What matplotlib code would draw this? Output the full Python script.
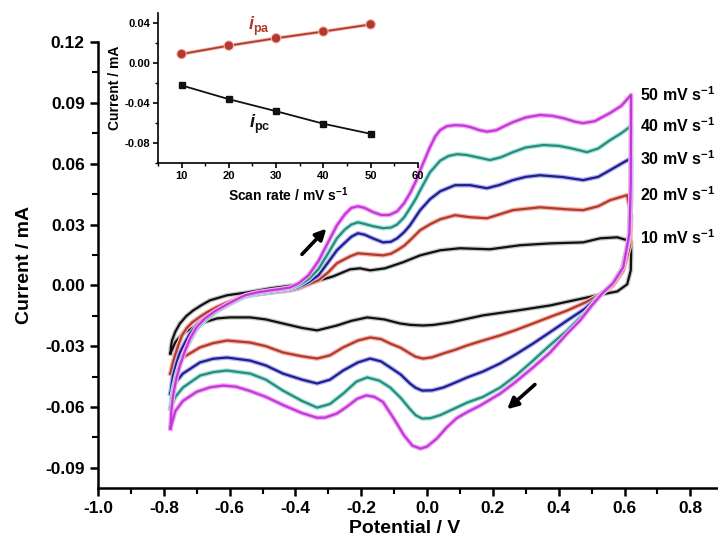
import matplotlib
matplotlib.use('Agg')
import matplotlib.pyplot as plt
import matplotlib.patheffects as pe
from matplotlib.ticker import MultipleLocator, FormatStrFormatter

plt.rcParams['font.family'] = ['Liberation Sans', 'DejaVu Sans']
plt.rcParams['font.weight'] = 'bold'
plt.rcParams['axes.unicode_minus'] = False
plt.rcParams['mathtext.fontset'] = 'custom'
plt.rcParams['mathtext.rm'] = 'Liberation Sans:bold'
plt.rcParams['mathtext.bf'] = 'Liberation Sans:bold'
plt.rcParams['mathtext.it'] = 'Liberation Sans:italic:bold'
plt.rcParams['mathtext.bfit'] = 'Liberation Sans:italic:bold'

# ---- CV data: (potential / V, current / mA), anodic sweep then cathodic sweep
cv_50 = [(-0.780, -0.0706), (-0.777, -0.0620), (-0.772, -0.0543), (-0.762, -0.0460), (-0.751, -0.0395),
         (-0.735, -0.0320), (-0.720, -0.0262), (-0.700, -0.0205), (-0.675, -0.0163), (-0.645, -0.0128),
         (-0.614, -0.0099), (-0.580, -0.0070), (-0.553, -0.0049), (-0.515, -0.0034), (-0.477, -0.0025),
         (-0.445, -0.0018), (-0.416, -0.0010), (-0.390, 0.0010), (-0.360, 0.0050), (-0.330, 0.0120),
         (-0.300, 0.0215), (-0.274, 0.0296), (-0.250, 0.0350), (-0.230, 0.0382), (-0.210, 0.0390),
         (-0.190, 0.0382), (-0.165, 0.0362), (-0.140, 0.0347), (-0.115, 0.0347), (-0.091, 0.0365),
         (-0.070, 0.0405), (-0.052, 0.0454), (-0.035, 0.0510), (-0.021, 0.0568), (0.009, 0.0682),
         (0.025, 0.0735), (0.040, 0.0766), (0.060, 0.0785), (0.085, 0.0790), (0.110, 0.0788),
         (0.131, 0.0781), (0.160, 0.0765), (0.182, 0.0758), (0.210, 0.0765), (0.235, 0.0785),
         (0.261, 0.0805), (0.300, 0.0828), (0.343, 0.0840), (0.380, 0.0836), (0.413, 0.0825),
         (0.450, 0.0807), (0.474, 0.0800), (0.510, 0.0810), (0.556, 0.0850), (0.590, 0.0885),
         (0.620, 0.0939),
         (0.619, 0.0504), (0.615, 0.0257), (0.596, 0.0089), (0.565, 0.0010), (0.532, -0.0040),
         (0.500, -0.0100), (0.465, -0.0173), (0.426, -0.0237), (0.374, -0.0331), (0.322, -0.0405),
         (0.267, -0.0479), (0.222, -0.0534), (0.161, -0.0593), (0.122, -0.0625), (0.090, -0.0655),
         (0.060, -0.0700), (0.030, -0.0755), (0.000, -0.0795), (-0.020, -0.0805), (-0.045, -0.0790),
         (-0.070, -0.0740), (-0.100, -0.0660), (-0.134, -0.0575), (-0.160, -0.0550), (-0.185, -0.0543),
         (-0.213, -0.0560), (-0.245, -0.0600), (-0.274, -0.0632), (-0.310, -0.0652), (-0.334, -0.0653),
         (-0.380, -0.0630), (-0.438, -0.0590), (-0.490, -0.0550), (-0.538, -0.0521), (-0.580, -0.0500),
         (-0.620, -0.0494), (-0.660, -0.0503), (-0.700, -0.0525), (-0.742, -0.0570), (-0.765, -0.0620),
         (-0.780, -0.0706)]

cv_40 = [(-0.780, -0.0608), (-0.776, -0.0550), (-0.772, -0.0509), (-0.762, -0.0440), (-0.751, -0.0380),
         (-0.735, -0.0320), (-0.720, -0.0272), (-0.700, -0.0215), (-0.675, -0.0173), (-0.645, -0.0135),
         (-0.614, -0.0104), (-0.580, -0.0075), (-0.553, -0.0054), (-0.515, -0.0040), (-0.477, -0.0030),
         (-0.445, -0.0022), (-0.416, -0.0015), (-0.390, 0.0000), (-0.360, 0.0030), (-0.330, 0.0080),
         (-0.300, 0.0160), (-0.274, 0.0232), (-0.250, 0.0275), (-0.230, 0.0300), (-0.210, 0.0311),
         (-0.190, 0.0303), (-0.165, 0.0292), (-0.134, 0.0282), (-0.110, 0.0285), (-0.091, 0.0300),
         (-0.070, 0.0335), (-0.052, 0.0380), (-0.035, 0.0425), (-0.021, 0.0469), (0.009, 0.0558),
         (0.040, 0.0615), (0.065, 0.0638), (0.091, 0.0647), (0.120, 0.0643), (0.152, 0.0632),
         (0.191, 0.0618), (0.225, 0.0632), (0.261, 0.0657), (0.300, 0.0680), (0.353, 0.0692),
         (0.400, 0.0688), (0.435, 0.0677), (0.486, 0.0657), (0.520, 0.0675), (0.556, 0.0716),
         (0.590, 0.0750), (0.620, 0.0786),
         (0.619, 0.0469), (0.614, 0.0232), (0.593, 0.0084), (0.562, 0.0005), (0.532, -0.0040),
         (0.480, -0.0135), (0.426, -0.0222), (0.370, -0.0300), (0.322, -0.0371), (0.270, -0.0445),
         (0.222, -0.0504), (0.170, -0.0550), (0.122, -0.0578), (0.080, -0.0610), (0.040, -0.0640),
         (0.010, -0.0655), (-0.015, -0.0657), (-0.035, -0.0640), (-0.052, -0.0610), (-0.080, -0.0555),
         (-0.112, -0.0504), (-0.145, -0.0470), (-0.182, -0.0454), (-0.215, -0.0475), (-0.255, -0.0534),
         (-0.295, -0.0585), (-0.334, -0.0603), (-0.380, -0.0570), (-0.438, -0.0519), (-0.490, -0.0465),
         (-0.538, -0.0435), (-0.608, -0.0420), (-0.650, -0.0428), (-0.690, -0.0445), (-0.742, -0.0504),
         (-0.765, -0.0550), (-0.780, -0.0608)]

cv_30 = [(-0.780, -0.0534), (-0.776, -0.0485), (-0.772, -0.0445), (-0.762, -0.0385), (-0.751, -0.0331),
         (-0.735, -0.0280), (-0.720, -0.0237), (-0.700, -0.0195), (-0.675, -0.0163), (-0.645, -0.0132),
         (-0.614, -0.0104), (-0.580, -0.0075), (-0.553, -0.0054), (-0.515, -0.0043), (-0.477, -0.0035),
         (-0.445, -0.0027), (-0.416, -0.0020), (-0.390, -0.0008), (-0.360, 0.0015), (-0.330, 0.0050),
         (-0.300, 0.0115), (-0.274, 0.0173), (-0.250, 0.0210), (-0.230, 0.0240), (-0.210, 0.0257),
         (-0.190, 0.0250), (-0.165, 0.0232), (-0.134, 0.0212), (-0.110, 0.0215), (-0.091, 0.0232),
         (-0.070, 0.0262), (-0.052, 0.0296), (-0.021, 0.0371), (0.009, 0.0425), (0.040, 0.0464),
         (0.085, 0.0494), (0.131, 0.0494), (0.182, 0.0479), (0.220, 0.0495), (0.261, 0.0519),
         (0.300, 0.0535), (0.343, 0.0543), (0.413, 0.0534), (0.474, 0.0519), (0.520, 0.0535),
         (0.556, 0.0568), (0.590, 0.0600), (0.620, 0.0627),
         (0.620, 0.0420), (0.614, 0.0222), (0.593, 0.0084), (0.562, 0.0005), (0.532, -0.0040),
         (0.480, -0.0115), (0.426, -0.0173), (0.370, -0.0235), (0.322, -0.0287), (0.270, -0.0340),
         (0.222, -0.0385), (0.170, -0.0425), (0.122, -0.0454), (0.085, -0.0480), (0.049, -0.0504),
         (0.015, -0.0518), (-0.015, -0.0519), (-0.035, -0.0505), (-0.052, -0.0484), (-0.080, -0.0440),
         (-0.112, -0.0405), (-0.140, -0.0375), (-0.173, -0.0361), (-0.210, -0.0380), (-0.255, -0.0420),
         (-0.295, -0.0465), (-0.334, -0.0484), (-0.380, -0.0465), (-0.438, -0.0435), (-0.490, -0.0395),
         (-0.538, -0.0371), (-0.608, -0.0356), (-0.650, -0.0362), (-0.690, -0.0380), (-0.742, -0.0435),
         (-0.765, -0.0480), (-0.780, -0.0534)]

cv_20 = [(-0.780, -0.0435), (-0.774, -0.0390), (-0.766, -0.0346), (-0.756, -0.0295), (-0.745, -0.0247),
         (-0.730, -0.0210), (-0.714, -0.0183), (-0.690, -0.0155), (-0.669, -0.0133), (-0.640, -0.0108),
         (-0.614, -0.0089), (-0.580, -0.0068), (-0.553, -0.0054), (-0.515, -0.0043), (-0.477, -0.0035),
         (-0.445, -0.0030), (-0.416, -0.0025), (-0.390, -0.0015), (-0.360, 0.0005), (-0.330, 0.0025),
         (-0.300, 0.0065), (-0.274, 0.0109), (-0.234, 0.0143), (-0.210, 0.0158), (-0.173, 0.0153),
         (-0.134, 0.0148), (-0.110, 0.0156), (-0.091, 0.0173), (-0.070, 0.0195), (-0.052, 0.0222),
         (-0.021, 0.0272), (0.009, 0.0301), (0.040, 0.0326), (0.085, 0.0346), (0.131, 0.0336),
         (0.182, 0.0331), (0.220, 0.0350), (0.261, 0.0371), (0.343, 0.0385), (0.426, 0.0375),
         (0.474, 0.0371), (0.520, 0.0390), (0.556, 0.0420), (0.608, 0.0445),
         (0.620, 0.0346), (0.617, 0.0198), (0.596, 0.0074), (0.565, 0.0000), (0.532, -0.0040),
         (0.480, -0.0085), (0.426, -0.0124), (0.370, -0.0158), (0.322, -0.0188), (0.270, -0.0220),
         (0.222, -0.0247), (0.170, -0.0272), (0.122, -0.0296), (0.085, -0.0318), (0.049, -0.0336),
         (0.015, -0.0355), (-0.012, -0.0361), (-0.035, -0.0352), (-0.052, -0.0336), (-0.080, -0.0308),
         (-0.112, -0.0287), (-0.140, -0.0265), (-0.173, -0.0257), (-0.210, -0.0272), (-0.255, -0.0306),
         (-0.295, -0.0345), (-0.334, -0.0361), (-0.380, -0.0350), (-0.438, -0.0331), (-0.490, -0.0300),
         (-0.538, -0.0282), (-0.608, -0.0272), (-0.650, -0.0285), (-0.690, -0.0306), (-0.742, -0.0356),
         (-0.765, -0.0395), (-0.780, -0.0435)]

cv_10 = [(-0.780, -0.0336), (-0.778, -0.0300), (-0.775, -0.0272), (-0.765, -0.0228), (-0.751, -0.0188),
         (-0.732, -0.0152), (-0.711, -0.0124), (-0.685, -0.0097), (-0.660, -0.0074), (-0.608, -0.0049),
         (-0.547, -0.0035), (-0.477, -0.0015), (-0.407, 0.0000), (-0.347, 0.0015), (-0.286, 0.0044),
         (-0.234, 0.0079), (-0.204, 0.0084), (-0.173, 0.0074), (-0.128, 0.0084), (-0.073, 0.0114),
         (-0.021, 0.0148), (0.040, 0.0173), (0.100, 0.0183), (0.191, 0.0178), (0.283, 0.0198),
         (0.374, 0.0207), (0.474, 0.0212), (0.526, 0.0232), (0.578, 0.0237), (0.620, 0.0217),
         (0.620, 0.0148), (0.619, 0.0074), (0.608, 0.0005), (0.578, -0.0030), (0.532, -0.0044),
         (0.474, -0.0064), (0.374, -0.0099), (0.274, -0.0124), (0.170, -0.0148), (0.070, -0.0183),
         (0.020, -0.0195), (-0.012, -0.0198), (-0.050, -0.0195), (-0.082, -0.0188), (-0.130, -0.0168),
         (-0.182, -0.0158), (-0.230, -0.0175), (-0.274, -0.0198), (-0.334, -0.0222), (-0.380, -0.0210),
         (-0.438, -0.0188), (-0.490, -0.0168), (-0.538, -0.0158), (-0.600, -0.0158), (-0.638, -0.0163),
         (-0.690, -0.0188), (-0.742, -0.0237), (-0.765, -0.0280), (-0.780, -0.0336)]

rate_labels = ['10 mV s$^{-1}$', '20 mV s$^{-1}$', '30 mV s$^{-1}$',
               '40 mV s$^{-1}$', '50 mV s$^{-1}$']
line_colors = ['#111111', '#b23a2c', '#1e1e8e', '#2a8a7c', '#c03ad8']
halo_colors = ['#c8c8c8', '#f2b6ae', '#b4b4f0', '#a6e6de', '#f4aaf4']

# ---- inset: peak current vs scan rate
scan_rate = [10, 20, 30, 40, 50]
i_pa = [0.0091, 0.0175, 0.0249, 0.0316, 0.0387]
i_pc = [-0.0222, -0.0360, -0.0480, -0.0605, -0.0706]

fig = plt.figure(figsize=(7.18, 5.46), dpi=100)
ax = fig.add_axes([0.1365, 0.106, 0.863, 0.817])

curves = [cv_10, cv_20, cv_30, cv_40, cv_50]
for cv, col, halo, lab in zip(curves, line_colors, halo_colors, rate_labels):
    e, cur = zip(*cv)
    ax.plot(e, cur, color=col, lw=1.6, solid_joinstyle='round',
            path_effects=[pe.Stroke(linewidth=3.4, foreground=halo), pe.Normal()])
    ax.text(0.648, max(cur), lab, fontsize=11.5, fontweight='bold',
            ha='left', va='center', clip_on=False)

# sweep direction arrows
ax.annotate('', xy=(-0.300, 0.0290), xytext=(-0.386, 0.0143),
            arrowprops=dict(arrowstyle='-|>', lw=2.6, color='black', mutation_scale=16))
ax.annotate('', xy=(0.237, -0.0620), xytext=(0.334, -0.0480),
            arrowprops=dict(arrowstyle='-|>', lw=2.6, color='black', mutation_scale=16))

ax.set_xlim(-1.0, 0.883)
ax.set_ylim(-0.10, 0.12)
ax.xaxis.set_major_locator(MultipleLocator(0.2))
ax.xaxis.set_minor_locator(MultipleLocator(0.1))
ax.yaxis.set_minor_locator(MultipleLocator(0.015))
ax.xaxis.set_major_formatter(FormatStrFormatter('%.1f'))
ax.yaxis.set_major_formatter(FormatStrFormatter('%.2f'))
ax.set_yticks([-0.09, -0.06, -0.03, 0.0, 0.03, 0.06, 0.09, 0.12])
ax.spines['top'].set_visible(False)
ax.spines['right'].set_visible(False)
for s in ['left', 'bottom']:
    ax.spines[s].set_linewidth(1.8)
ax.tick_params(which='major', direction='out', length=6, width=1.8, labelsize=12.5)
ax.tick_params(which='minor', direction='out', length=4, width=1.5)
for t in ax.get_xticklabels() + ax.get_yticklabels():
    t.set_fontweight('bold')
ax.set_xlabel('Potential / V', fontsize=14, fontweight='bold')
ax.set_ylabel('Current / mA', fontsize=14, fontweight='bold')
ax.xaxis.set_label_coords(0.495, -0.072)
ax.yaxis.set_label_coords(-0.105, 0.5)

# ---- inset
ins = fig.add_axes([0.220, 0.701, 0.362, 0.275])
ins.plot(scan_rate, i_pa, color='#b23a2c', lw=1.3, marker='o', ms=5,
         path_effects=[pe.Stroke(linewidth=2.6, foreground='#f2b6ae'), pe.Normal()])
ins.plot(scan_rate, i_pc, color='#111111', lw=1.3, marker='s', ms=5)
ins.text(24.0, 0.037, r'$\mathbfit{i}_{\mathbf{pa}}$', color='#b23a2c', fontsize=13,
         ha='left', va='center')
ins.text(24.3, -0.061, r'$\mathbfit{i}_{\mathbf{pc}}$', color='#111111', fontsize=13,
         ha='left', va='center')
ins.set_xlim(5, 60)
ins.set_ylim(-0.10, 0.05)
ins.set_xticks([10, 20, 30, 40, 50, 60])
ins.set_yticks([-0.08, -0.04, 0.0, 0.04])
ins.xaxis.set_minor_locator(MultipleLocator(5))
ins.yaxis.set_minor_locator(MultipleLocator(0.02))
ins.yaxis.set_major_formatter(FormatStrFormatter('%.2f'))
ins.spines['top'].set_visible(False)
ins.spines['right'].set_visible(False)
for s in ['left', 'bottom']:
    ins.spines[s].set_linewidth(1.2)
ins.tick_params(which='major', direction='out', length=3.5, width=1.2, labelsize=8, pad=2)
ins.tick_params(which='minor', direction='out', length=2, width=1.0)
for t in ins.get_xticklabels() + ins.get_yticklabels():
    t.set_fontweight('bold')
ins.set_xlabel('Scan rate / mV s$^{-1}$', fontsize=10, fontweight='bold')
ins.set_ylabel('Current / mA', fontsize=10, fontweight='bold')
ins.xaxis.set_label_coords(0.5, -0.15)
ins.yaxis.set_label_coords(-0.14, 0.5)

fig.savefig('out.png', dpi=100)
